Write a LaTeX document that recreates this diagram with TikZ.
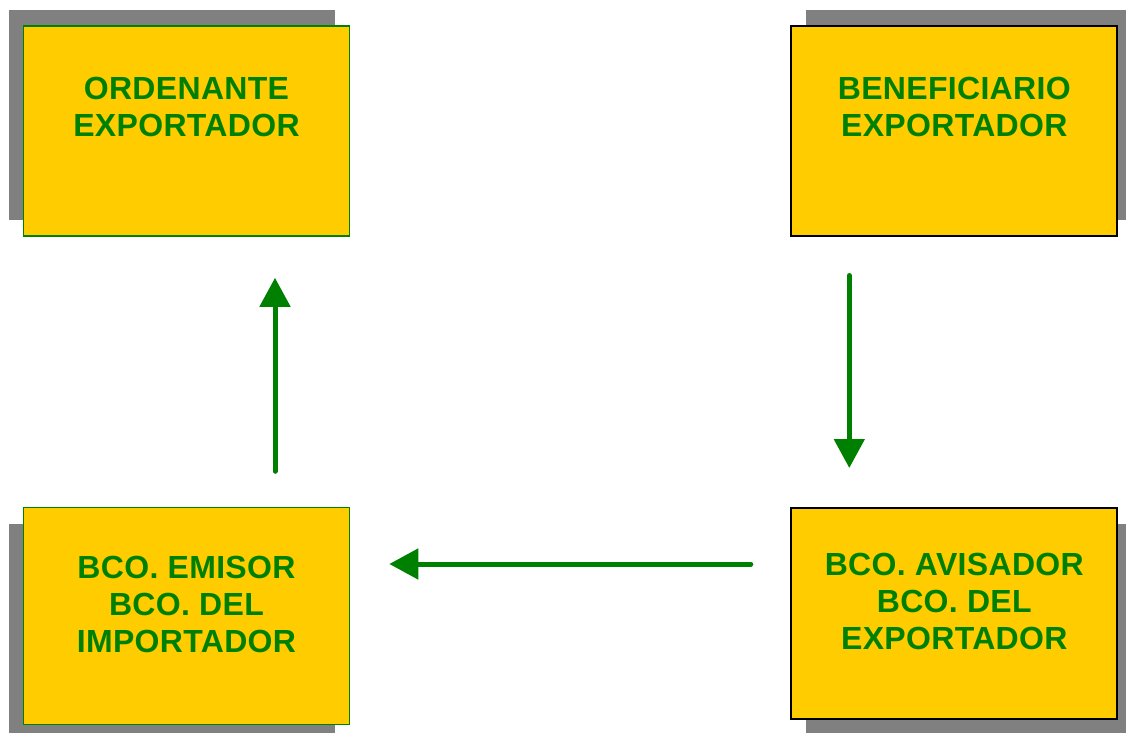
\documentclass[tikz,border=0pt]{standalone}
\usepackage{fontspec}
\setmainfont{Liberation Sans}[LetterSpace=1]
\usepackage{tikz}
\usetikzlibrary{arrows.meta, positioning, shadows}
\usepackage{xcolor}
\definecolor{cardYellow}{RGB}{255,204,0}
\definecolor{flowGreen}{RGB}{0,128,0}
\definecolor{shadowGray}{RGB}{128,128,128}

\begin{document}
\begin{tikzpicture}[
    node distance=135pt and 220pt,
    card/.style={rectangle, draw, line width=0.8pt, fill=cardYellow, minimum width=163pt, minimum height=105pt, align=center, text=flowGreen, font=\fontsize{16}{18.5}\selectfont\bfseries},
    drop/.style 2 args={general shadow={fill=shadowGray, shadow xshift=#1, shadow yshift=#2}},
    arrow/.style={-{Triangle[length=14.5pt, width=15pt]}, line width=2.5pt, draw=flowGreen, line cap=round}
]
\useasboundingbox (0,0) rectangle (563pt,-366.5pt);

\node[card, draw=flowGreen, drop={-7.5pt}{8pt}] at (93.25pt,-65.5pt) (ordenante) {ORDENANTE\\EXPORTADOR\\[6pt]~};
\node[card, draw=black, line width=1pt, drop={7.5pt}{8pt}, right=of ordenante] (beneficiario) {BENEFICIARIO\\EXPORTADOR\\[6pt]~};
\node[card, draw=flowGreen, minimum height=108.5pt, drop={-7.5pt}{-8pt}, below=of ordenante] (emisor) {BCO. EMISOR\\BCO. DEL\\IMPORTADOR\\[-6.5pt]~};
\node[card, draw=black, line width=1pt, minimum height=105.5pt, drop={7.5pt}{-8pt}, below=of beneficiario] (avisador) {BCO. AVISADOR\\BCO. DEL\\EXPORTADOR\\[-6.5pt]~};

\draw[arrow, shorten <=17.75pt, shorten >=20.5pt] ([xshift=44.25pt]emisor.north) -- ([xshift=44.25pt]ordenante.south);
\draw[arrow, shorten <=19.25pt, shorten >=19.5pt] ([xshift=-52.5pt]beneficiario.south) -- ([xshift=-52.5pt]avisador.north);
\draw[arrow, shorten <=19.75pt, shorten >=19.5pt] ([yshift=24.75pt]avisador.west) -- ([yshift=24.75pt]avisador.west -| emisor.east);

\end{tikzpicture}
\end{document}
